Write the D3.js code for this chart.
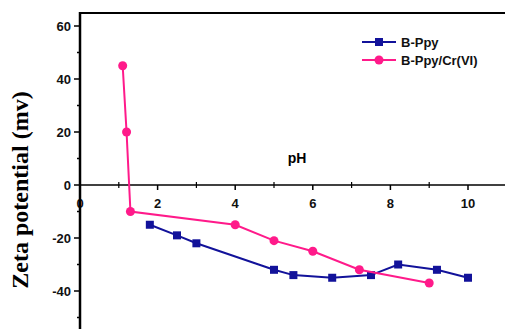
<!DOCTYPE html>
<html>
<head>
<meta charset="utf-8">
<script src="https://cdn.jsdelivr.net/npm/d3@7"></script>
<style>
  body { margin: 0; background: #fff; }
  svg { display: block; }
  .tick-label { font-family: "Liberation Sans", Arial, sans-serif; font-weight: bold; font-size: 13px; fill: #111; }
</style>
</head>
<body>
<svg></svg>
<script>
var w = 505, h = 329;

// data
var bppy_ph   = [1.8, 2.5, 3, 5, 5.5, 6.5, 7.5, 8.2, 9.2, 10];
var bppy_zeta = [-15, -19, -22, -32, -34, -35, -34, -30, -32, -35];
var bcr_ph    = [1.1, 1.2, 1.3, 4, 5, 6, 7.2, 9];
var bcr_zeta  = [45, 20, -10, -15, -21, -25, -32, -37];
var xTicks = [0, 2, 4, 6, 8, 10];
var yTicks = [-40, -20, 0, 20, 40, 60];
var seriesNames = ["B-Ppy", "B-Ppy/Cr(VI)"];
var seriesColors = ["#12129a", "#ff1a8a"];

var svg = d3.select("svg").attr("width", w).attr("height", h);

var x = d3.scaleLinear().domain([0, 10]).range([80, 468]);
var y = d3.scaleLinear().domain([-40, 60]).range([291, 26]);

var top_y = 13;

// top frame line
svg.append("line")
    .attr("x1", x(0)).attr("x2", w)
    .attr("y1", top_y).attr("y2", top_y)
    .attr("stroke", "#000").attr("stroke-width", 2);

// x axis through zero
var xAxis = svg.append("g").attr("transform", "translate(0," + y(0) + ")");
xAxis.append("line")
    .attr("x1", x(0)).attr("x2", w)
    .attr("stroke", "#000").attr("stroke-width", 1.5);
var xMinor = d3.range(1, 11, 2);
xAxis.selectAll(".xminor").data(xMinor).enter().append("line")
    .attr("x1", d => x(d)).attr("x2", d => x(d))
    .attr("y1", -3).attr("y2", 3)
    .attr("stroke", "#000").attr("stroke-width", 1.2);
xAxis.selectAll(".xmajor").data(xTicks).enter().append("line")
    .attr("x1", d => x(d)).attr("x2", d => x(d))
    .attr("y1", 0).attr("y2", 5)
    .attr("stroke", "#000").attr("stroke-width", 1.5);
xAxis.selectAll(".xlab").data(xTicks).enter().append("text")
    .attr("class", "tick-label")
    .attr("x", d => x(d))
    .attr("y", 23)
    .attr("text-anchor", "middle")
    .text(d => d);

// y axis
svg.append("line")
    .attr("x1", x(0)).attr("x2", x(0))
    .attr("y1", top_y - 1).attr("y2", h)
    .attr("stroke", "#000").attr("stroke-width", 2.5);
var yMinor = d3.range(-50, 60, 20);
svg.selectAll(".yminor").data(yMinor).enter().append("line")
    .attr("x1", x(0) - 3).attr("x2", x(0))
    .attr("y1", d => y(d)).attr("y2", d => y(d))
    .attr("stroke", "#000").attr("stroke-width", 1.5);
svg.selectAll(".ymajor").data(yTicks).enter().append("line")
    .attr("x1", x(0) - 6).attr("x2", x(0))
    .attr("y1", d => y(d)).attr("y2", d => y(d))
    .attr("stroke", "#000").attr("stroke-width", 1.5);
svg.selectAll(".ylab").data(yTicks).enter().append("text")
    .attr("class", "tick-label")
    .attr("x", x(0) - 9)
    .attr("y", d => y(d) + 5)
    .attr("text-anchor", "end")
    .text(d => d);

// axis titles
svg.append("text")
    .attr("transform", "translate(28,190) rotate(-90)")
    .attr("text-anchor", "middle")
    .style("font-family", "'Liberation Serif', 'Times New Roman', serif")
    .style("font-weight", "bold")
    .style("font-size", "24px")
    .text("Zeta potential (mv)");

svg.append("text")
    .attr("x", 297).attr("y", 163)
    .attr("text-anchor", "middle")
    .style("font-family", "'Liberation Sans', Arial, sans-serif")
    .style("font-weight", "bold")
    .style("font-size", "14px")
    .text("pH");

// series
var line = d3.line().x(d => x(d[0])).y(d => y(d[1]));
var bppy = d3.zip(bppy_ph, bppy_zeta);
var bcr = d3.zip(bcr_ph, bcr_zeta);

svg.append("path").datum(bppy)
    .attr("d", line).attr("fill", "none")
    .attr("stroke", seriesColors[0]).attr("stroke-width", 2);
svg.selectAll(".sq").data(bppy).enter().append("rect")
    .attr("x", d => x(d[0]) - 4).attr("y", d => y(d[1]) - 4)
    .attr("width", 8).attr("height", 8)
    .attr("fill", seriesColors[0]);

svg.append("path").datum(bcr)
    .attr("d", line).attr("fill", "none")
    .attr("stroke", seriesColors[1]).attr("stroke-width", 2);
svg.selectAll(".dot").data(bcr).enter().append("circle")
    .attr("cx", d => x(d[0])).attr("cy", d => y(d[1]))
    .attr("r", 4.5)
    .attr("fill", seriesColors[1]);

// legend
var legend = svg.append("g").attr("transform", "translate(362,42)");
seriesNames.forEach(function (name, i) {
    var g = legend.append("g").attr("transform", "translate(0," + i * 18 + ")");
    g.append("line").attr("x1", 0).attr("x2", 34)
        .attr("stroke", seriesColors[i]).attr("stroke-width", 2);
    if (i == 0) {
        g.append("rect").attr("x", 13).attr("y", -4).attr("width", 8).attr("height", 8)
            .attr("fill", seriesColors[i]);
    } else {
        g.append("circle").attr("cx", 17).attr("cy", 0).attr("r", 4.5)
            .attr("fill", seriesColors[i]);
    }
    g.append("text").attr("x", 39).attr("y", 5)
        .style("font-family", "'Liberation Sans', Arial, sans-serif")
        .style("font-weight", "bold")
        .style("font-size", "13px")
        .attr("fill", "#111")
        .text(name);
});
</script>
</body>
</html>
